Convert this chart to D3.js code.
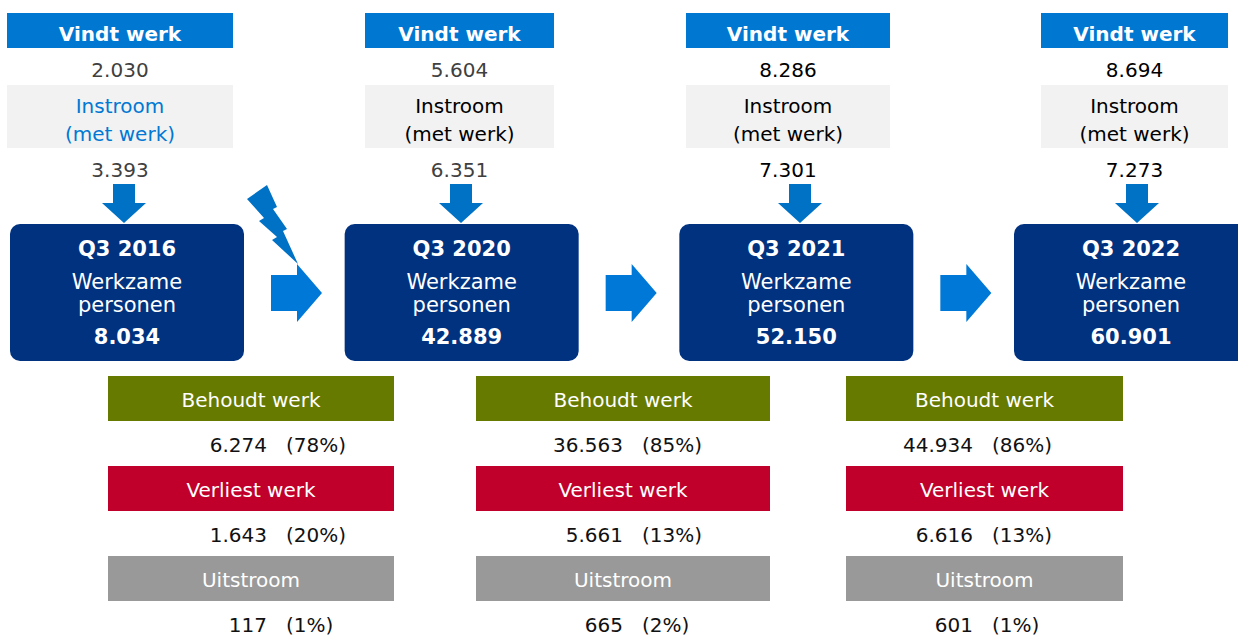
<!DOCTYPE html>
<html>
<head>
<meta charset="utf-8">
<script src="https://cdn.jsdelivr.net/npm/d3@7"></script>
<style>
  body { margin: 0; background: #fff; }
  svg { display: block; font-family: "DejaVu Sans", Verdana, sans-serif; }
</style>
</head>
<body>
<svg id="chart" width="1238" height="635"></svg>
<script>
// Data
const periods = ["Q3 2016", "Q3 2020", "Q3 2021", "Q3 2022"];
const vindtWerk = [2030, 5604, 8286, 8694];
const instroom = [3393, 6351, 7301, 7273];
const werkzame = [8034, 42889, 52150, 60901];

const outcomes = ["Behoudt werk", "Verliest werk", "Uitstroom"];
const behoudt = [6274, 36563, 44934];
const behoudtPct = [78, 85, 86];
const verliest = [1643, 5661, 6616];
const verliestPct = [20, 13, 13];
const uitstroom = [117, 665, 601];
const uitstroomPct = [1, 2, 1];

// Dutch number format: 42.889
const nl = d3.formatLocale({ decimal: ",", thousands: ".", grouping: [3], currency: ["€", ""] });
const fmt = nl.format(",d");

// layout (per column, positions only)
const headX = [7, 365, 686, 1041];
const headW = [226, 189, 204, 187];
const downX = [124, 461, 800, 1137];
const barX = [108, 476, 846];
const barW = [286, 294, 277];
const numEnd = [267, 623, 973];
const valColor = ["#404040", "#404040", "#000", "#000"];
const lblColor = ["#0078d4", "#000", "#000", "#000"];

const outColors = d3.scaleOrdinal().domain(outcomes).range(["#667a00", "#c0002a", "#999999"]);

const svg = d3.select("#chart");

// box x position for each period
const boxX = d3.scaleLinear().domain([0, periods.length - 1]).range([10, 1014]);
const boxW = 234, boxTop = 224, boxH = 137;

// top blocks: Vindt werk / values / Instroom
const topG = svg.selectAll("g.top").data(periods).enter().append("g").attr("class", "top");

topG.append("rect")
  .attr("x", (d, i) => headX[i]).attr("y", 13)
  .attr("width", (d, i) => headW[i]).attr("height", 35)
  .attr("fill", "#0078d2");
topG.append("text")
  .attr("x", (d, i) => headX[i] + headW[i] / 2).attr("y", 41)
  .attr("text-anchor", "middle").attr("font-size", 20).attr("font-weight", "bold")
  .attr("fill", "#fff").text("Vindt werk");
topG.append("text")
  .attr("x", (d, i) => headX[i] + headW[i] / 2).attr("y", 77)
  .attr("text-anchor", "middle").attr("font-size", 20)
  .attr("fill", (d, i) => valColor[i]).text((d, i) => fmt(vindtWerk[i]));
topG.append("rect")
  .attr("x", (d, i) => headX[i]).attr("y", 85)
  .attr("width", (d, i) => headW[i]).attr("height", 63)
  .attr("fill", "#f2f2f2");
topG.append("text")
  .attr("x", (d, i) => headX[i] + headW[i] / 2).attr("y", 113)
  .attr("text-anchor", "middle").attr("font-size", 20)
  .attr("fill", (d, i) => lblColor[i]).text("Instroom");
topG.append("text")
  .attr("x", (d, i) => headX[i] + headW[i] / 2).attr("y", 141)
  .attr("text-anchor", "middle").attr("font-size", 20)
  .attr("fill", (d, i) => lblColor[i]).text("(met werk)");
topG.append("text")
  .attr("x", (d, i) => headX[i] + headW[i] / 2).attr("y", 177)
  .attr("text-anchor", "middle").attr("font-size", 20)
  .attr("fill", (d, i) => valColor[i]).text((d, i) => fmt(instroom[i]));

// down arrows into the boxes
topG.append("path")
  .attr("fill", "#0072c6")
  .attr("d", (d, i) => {
    const c = downX[i];
    return `M${c - 11},184 H${c + 11} V203 H${c + 22} L${c},223 L${c - 22},203 H${c - 11} Z`;
  });

// navy boxes
const box = svg.selectAll("g.box").data(periods).enter().append("g").attr("class", "box");
box.append("rect")
  .attr("x", (d, i) => boxX(i)).attr("y", boxTop)
  .attr("width", boxW).attr("height", boxH).attr("rx", 10)
  .attr("fill", "#003280");
const bt = [[256, "bold", d => d], [289, "normal", () => "Werkzame"], [312, "normal", () => "personen"],
  [344, "bold", (d, i) => fmt(werkzame[i])]];
bt.forEach(([y, w, f]) => {
  box.append("text")
    .attr("x", (d, i) => boxX(i) + boxW / 2).attr("y", y)
    .attr("text-anchor", "middle").attr("font-size", 21).attr("font-weight", w)
    .attr("fill", "#fff").text(f);
});

// right arrows between boxes
svg.selectAll("path.right").data(periods.slice(1)).enter().append("path")
  .attr("class", "right").attr("fill", "#0078d7")
  .attr("d", (d, i) => {
    const x0 = boxX(i) + boxW + 27;
    return `M${x0},275 H${x0 + 26} V264 L${x0 + 51},293 L${x0 + 26},322 V311 H${x0} Z`;
  });

// lightning bolt (break in the series 2016 -> 2020)
const bolt = [[247, 199], [267, 185], [277, 207], [273, 209], [287, 229], [283, 231], [298, 264],
  [272, 240], [277, 237], [259, 221], [264, 218]];
svg.append("path").attr("fill", "#0072c6").attr("d", d3.line()(bolt) + "Z");

// bottom outcome bars
const rowY = d3.scaleLinear().domain([0, 1]).range([376, 466]);
const rows = [
  [behoudt, behoudtPct],
  [verliest, verliestPct],
  [uitstroom, uitstroomPct]
];

outcomes.forEach((name, r) => {
  const g = svg.append("g");
  const vals = rows[r][0], pct = rows[r][1];
  g.selectAll("rect").data(vals).enter().append("rect")
    .attr("x", (d, i) => barX[i]).attr("y", rowY(r))
    .attr("width", (d, i) => barW[i]).attr("height", 45)
    .attr("fill", outColors(name));
  g.selectAll("text.lbl").data(vals).enter().append("text").attr("class", "lbl")
    .attr("x", (d, i) => barX[i] + barW[i] / 2).attr("y", rowY(r) + 31)
    .attr("text-anchor", "middle").attr("font-size", 20)
    .attr("fill", "#fff").text(name);
  g.selectAll("text.num").data(vals).enter().append("text").attr("class", "num")
    .attr("x", (d, i) => numEnd[i]).attr("y", rowY(r) + 76)
    .attr("text-anchor", "end").attr("font-size", 20)
    .attr("fill", "#111").text(d => fmt(d));
  g.selectAll("text.pct").data(pct).enter().append("text").attr("class", "pct")
    .attr("x", (d, i) => numEnd[i] + 19).attr("y", rowY(r) + 76)
    .attr("text-anchor", "start").attr("font-size", 20)
    .attr("fill", "#111").text(d => `(${d}%)`);
});
</script>
</body>
</html>
